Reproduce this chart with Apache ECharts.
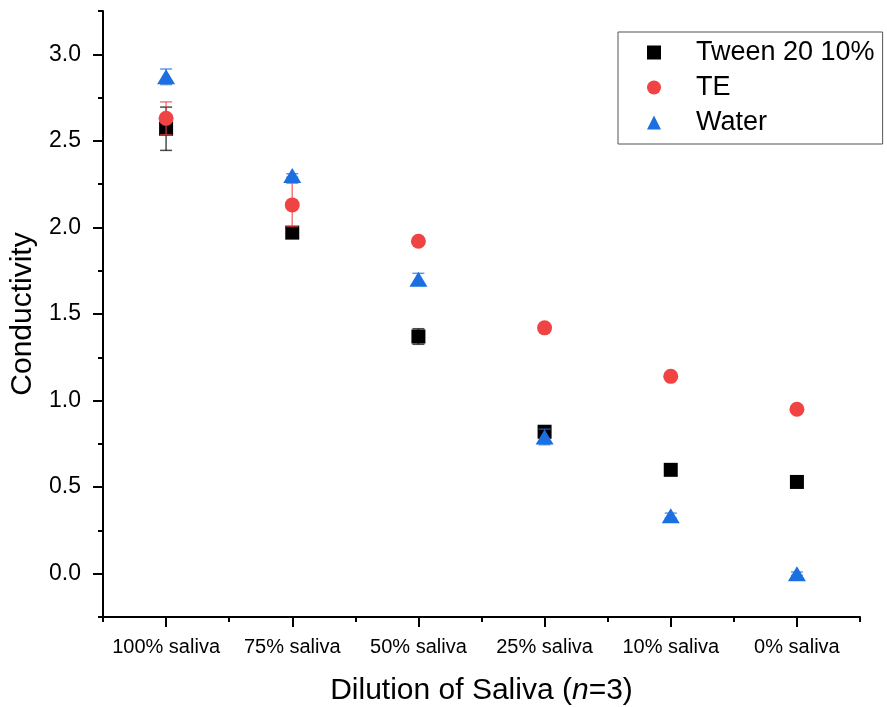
<!DOCTYPE html>
<html>
<head>
<meta charset="utf-8">
<script src="https://cdn.jsdelivr.net/npm/echarts@6/dist/echarts.min.js"></script>
<style>html,body{margin:0;padding:0;background:#fff}#c{width:887px;height:707px}</style>
</head>
<body>
<div id="c"></div>
<script>
const categories = ['100% saliva', '75% saliva', '50% saliva', '25% saliva', '10% saliva', '0% saliva'];
const tweenMean = [2.57, 1.97, 1.37, 0.82, 0.60, 0.53];
const tweenErr  = [0.125, 0.01, 0.045, 0.02, 0.01, 0.01];
const teMean    = [2.63, 2.13, 1.92, 1.42, 1.14, 0.95];
const teErr     = [0.095, 0.125, 0.01, 0.01, 0.01, 0.01];
const waterMean = [2.87, 2.30, 1.70, 0.79, 0.335, 0.00];
const waterErr  = [0.045, 0.01, 0.035, 0.045, 0.015, 0.01];
const yMajorTicks = [0, 0.5, 1.0, 1.5, 2.0, 2.5, 3.0];
const yMinorTicks = [-0.25, 0.25, 0.75, 1.25, 1.75, 2.25, 2.75, 3.25];
const seriesNames = ['Tween 20 10%', 'TE', 'Water'];

const FONT = '"Liberation Sans", Arial, sans-serif';
const colors = ['#000000', '#f04343', '#1c6fe0'];
const barColors = ['rgba(0,0,0,0.7)', 'rgba(240,67,67,0.7)', 'rgba(28,111,224,0.7)'];

function errData(mean, err) {
  return mean.map((m, i) => [i, m - err[i], m + err[i]]);
}
function errSeries(name, mean, err, color, z) {
  return {
    type: 'custom', name: name + ' err', xAxisIndex: 0, yAxisIndex: 0, z: z,
    silent: true,
    data: errData(mean, err),
    renderItem: function (params, api) {
      const lo = api.coord([api.value(0), api.value(1)]);
      const hi = api.coord([api.value(0), api.value(2)]);
      const w = 6;
      const style = { stroke: color, lineWidth: 1.5, fill: null };
      return {
        type: 'group',
        children: [
          { type: 'line', shape: { x1: lo[0], y1: lo[1], x2: hi[0], y2: hi[1] }, style: style },
          { type: 'line', shape: { x1: lo[0] - w, y1: lo[1], x2: lo[0] + w, y2: lo[1] }, style: style },
          { type: 'line', shape: { x1: hi[0] - w, y1: hi[1], x2: hi[0] + w, y2: hi[1] }, style: style }
        ]
      };
    }
  };
}

const chart = echarts.init(document.getElementById('c'), null, { renderer: 'canvas' });
const option = {
  animation: false,
  backgroundColor: '#fff',
  textStyle: { fontFamily: FONT, color: '#000' },
  grid: { left: 103, right: 27, top: 11, bottom: 90, containLabel: false, outerBoundsMode: 'none' },
  legend: {
    left: 618, top: 32,
    orient: 'vertical',
    data: seriesNames,
    itemWidth: 14, itemHeight: 14,
    itemGap: 8,
    padding: [7, 8, 8, 29],
    borderColor: '#555', borderWidth: 1,
    textStyle: { fontFamily: FONT, fontSize: 27, color: '#000', padding: [0, 0, 0, 30], lineHeight: 27 }
  },
  xAxis: [
    {
      type: 'category', data: categories, boundaryGap: true,
      name: 'Dilution of Saliva ({i|n}=3)', nameLocation: 'middle', nameGap: 59,
      nameTextStyle: { fontFamily: FONT, fontSize: 30, color: '#000', rich: { i: { fontStyle: 'italic', fontFamily: FONT, fontSize: 30, color: '#000' } } },
      axisLine: { show: true, onZero: false, lineStyle: { color: '#000', width: 2 } },
      axisTick: { show: true, alignWithLabel: true, length: 10, lineStyle: { color: '#000', width: 2 } },
      axisLabel: { fontFamily: FONT, fontSize: 20, color: '#000', margin: 20, interval: 0 },
      splitLine: { show: false }
    },
    {
      type: 'category', data: categories, boundaryGap: true, position: 'bottom',
      axisLine: { show: false, onZero: false },
      axisTick: { show: true, alignWithLabel: false, length: 5, lineStyle: { color: '#000', width: 2 } },
      axisLabel: { show: false }, splitLine: { show: false }
    }
  ],
  yAxis: [
    {
      type: 'value', min: -0.25, max: 3.25,
      name: 'Conductivity', nameLocation: 'middle', nameGap: 56, nameRotate: 90,
      nameTextStyle: { fontFamily: FONT, fontSize: 30, color: '#000' },
      axisLine: { show: true, onZero: false, lineStyle: { color: '#000', width: 2 } },
      axisTick: { show: true, length: 10, customValues: yMajorTicks, lineStyle: { color: '#000', width: 2 } },
      axisLabel: { fontFamily: FONT, fontSize: 23, color: '#000', margin: 22, customValues: yMajorTicks,
                   formatter: v => v.toFixed(1) },
      splitLine: { show: false }
    },
    {
      type: 'value', min: -0.25, max: 3.25, position: 'left',
      axisLine: { show: false, onZero: false },
      axisTick: { show: true, length: 5, customValues: yMinorTicks, lineStyle: { color: '#000', width: 2 } },
      axisLabel: { show: false }, splitLine: { show: false }
    }
  ],
  series: [
    errSeries(seriesNames[0], tweenMean, tweenErr, barColors[0], 2),
    errSeries(seriesNames[1], teMean, teErr, barColors[1], 4),
    errSeries(seriesNames[2], waterMean, waterErr, barColors[2], 6),
    { type: 'scatter', name: seriesNames[0], data: tweenMean, symbol: 'rect', symbolSize: 14,
      itemStyle: { color: colors[0], opacity: 1 }, z: 3 },
    { type: 'scatter', name: seriesNames[1], data: teMean, symbol: 'circle', symbolSize: 15,
      itemStyle: { color: colors[1], opacity: 1 }, z: 5 },
    { type: 'scatter', name: seriesNames[2], data: waterMean, symbol: 'triangle', symbolSize: [18, 15],
      itemStyle: { color: colors[2], opacity: 1 }, z: 7 }
  ]
};
chart.setOption(option);
</script>
</body>
</html>
